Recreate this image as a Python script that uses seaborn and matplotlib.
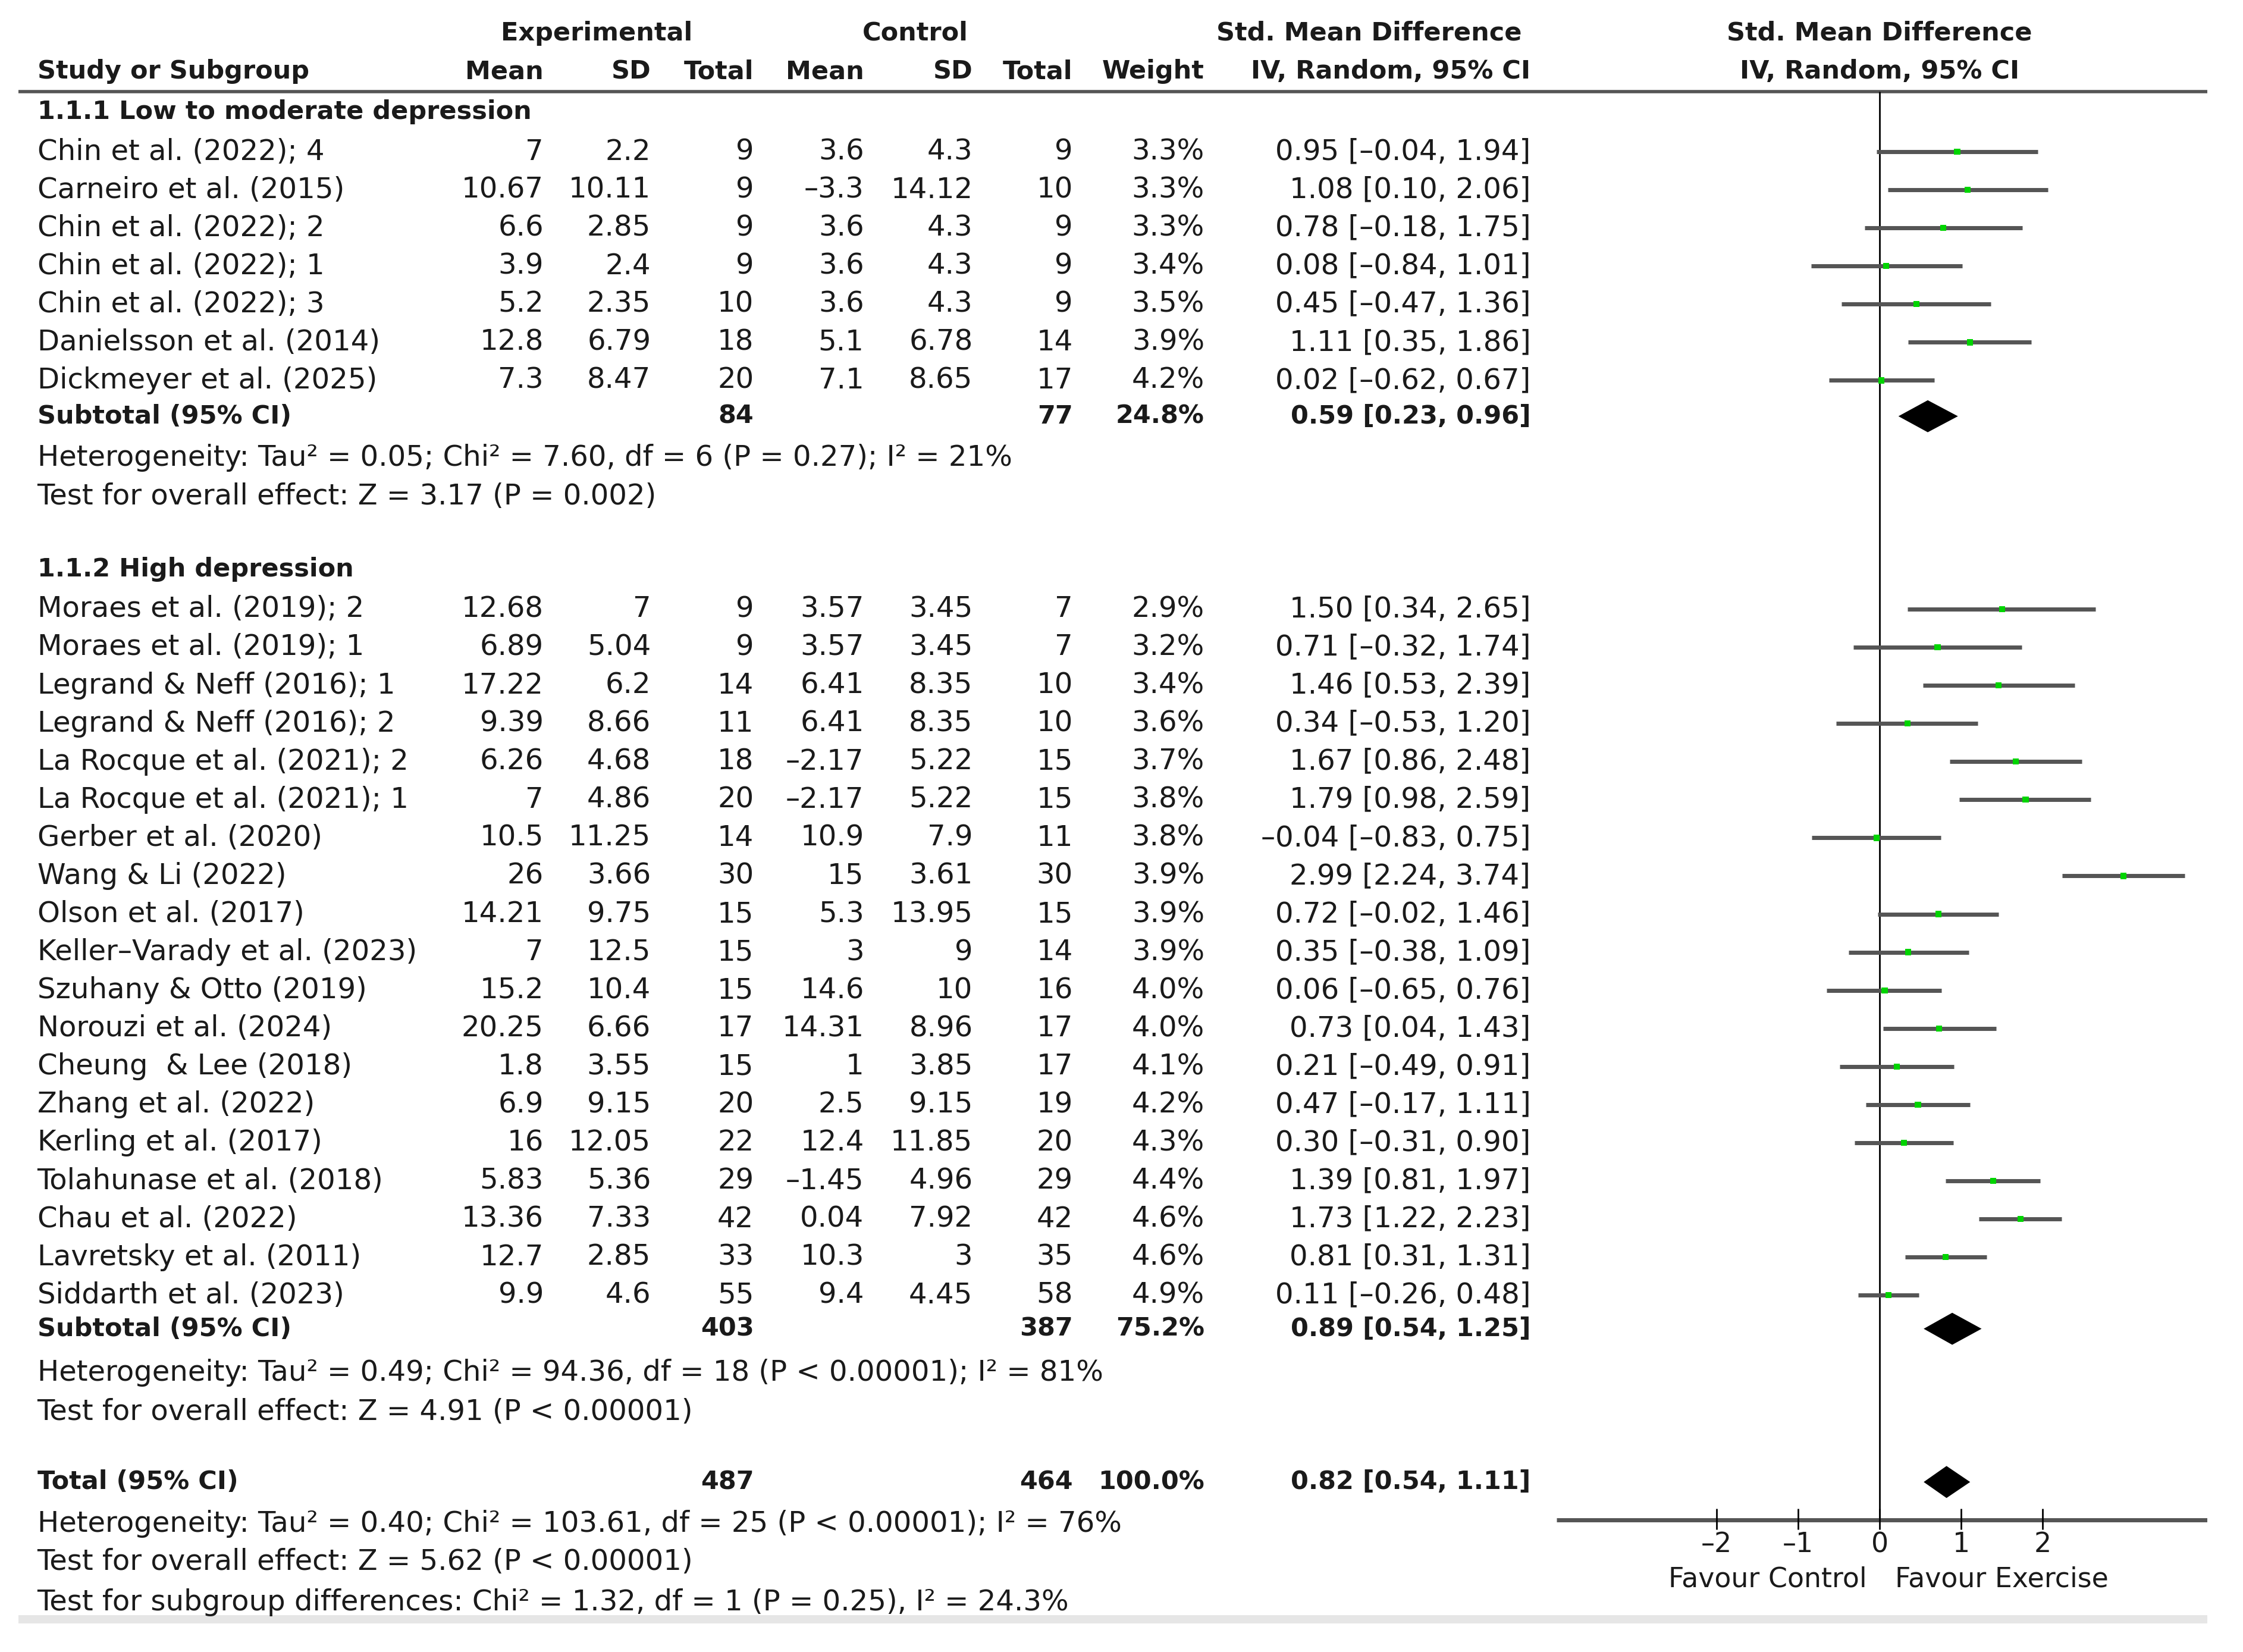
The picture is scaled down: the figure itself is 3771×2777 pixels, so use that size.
import numpy as np
import pandas as pd
import matplotlib.pyplot as plt
import seaborn as sns

# ---- values ----
g1_study = ["Chin et al. (2022); 4", "Carneiro et al. (2015)", "Chin et al. (2022); 2",
            "Chin et al. (2022); 1", "Chin et al. (2022); 3", "Danielsson et al. (2014)",
            "Dickmeyer et al. (2025)"]
g1_exp_mean = [7, 10.67, 6.6, 3.9, 5.2, 12.8, 7.3]
g1_exp_sd = [2.2, 10.11, 2.85, 2.4, 2.35, 6.79, 8.47]
g1_exp_n = [9, 9, 9, 9, 10, 18, 20]
g1_ctl_mean = [3.6, -3.3, 3.6, 3.6, 3.6, 5.1, 7.1]
g1_ctl_sd = [4.3, 14.12, 4.3, 4.3, 4.3, 6.78, 8.65]
g1_ctl_n = [9, 10, 9, 9, 9, 14, 17]
g1_weight = [3.3, 3.3, 3.3, 3.4, 3.5, 3.9, 4.2]
g1_smd = [0.95, 1.08, 0.78, 0.08, 0.45, 1.11, 0.02]
g1_lo = [-0.04, 0.10, -0.18, -0.84, -0.47, 0.35, -0.62]
g1_hi = [1.94, 2.06, 1.75, 1.01, 1.36, 1.86, 0.67]

g2_study = ["Moraes et al. (2019); 2", "Moraes et al. (2019); 1", "Legrand & Neff (2016); 1",
            "Legrand & Neff (2016); 2", "La Rocque et al. (2021); 2", "La Rocque et al. (2021); 1",
            "Gerber et al. (2020)", "Wang & Li (2022)", "Olson et al. (2017)",
            "Keller\u2013Varady et al. (2023)", "Szuhany & Otto (2019)", "Norouzi et al. (2024)",
            "Cheung  & Lee (2018)", "Zhang et al. (2022)", "Kerling et al. (2017)",
            "Tolahunase et al. (2018)", "Chau et al. (2022)", "Lavretsky et al. (2011)",
            "Siddarth et al. (2023)"]
g2_exp_mean = [12.68, 6.89, 17.22, 9.39, 6.26, 7, 10.5, 26, 14.21, 7, 15.2, 20.25, 1.8, 6.9,
               16, 5.83, 13.36, 12.7, 9.9]
g2_exp_sd = [7, 5.04, 6.2, 8.66, 4.68, 4.86, 11.25, 3.66, 9.75, 12.5, 10.4, 6.66, 3.55, 9.15,
             12.05, 5.36, 7.33, 2.85, 4.6]
g2_exp_n = [9, 9, 14, 11, 18, 20, 14, 30, 15, 15, 15, 17, 15, 20, 22, 29, 42, 33, 55]
g2_ctl_mean = [3.57, 3.57, 6.41, 6.41, -2.17, -2.17, 10.9, 15, 5.3, 3, 14.6, 14.31, 1, 2.5,
               12.4, -1.45, 0.04, 10.3, 9.4]
g2_ctl_sd = [3.45, 3.45, 8.35, 8.35, 5.22, 5.22, 7.9, 3.61, 13.95, 9, 10, 8.96, 3.85, 9.15,
             11.85, 4.96, 7.92, 3, 4.45]
g2_ctl_n = [7, 7, 10, 10, 15, 15, 11, 30, 15, 14, 16, 17, 17, 19, 20, 29, 42, 35, 58]
g2_weight = [2.9, 3.2, 3.4, 3.6, 3.7, 3.8, 3.8, 3.9, 3.9, 3.9, 4.0, 4.0, 4.1, 4.2, 4.3, 4.4,
             4.6, 4.6, 4.9]
g2_smd = [1.50, 0.71, 1.46, 0.34, 1.67, 1.79, -0.04, 2.99, 0.72, 0.35, 0.06, 0.73, 0.21, 0.47,
          0.30, 1.39, 1.73, 0.81, 0.11]
g2_lo = [0.34, -0.32, 0.53, -0.53, 0.86, 0.98, -0.83, 2.24, -0.02, -0.38, -0.65, 0.04, -0.49,
         -0.17, -0.31, 0.81, 1.22, 0.31, -0.26]
g2_hi = [2.65, 1.74, 2.39, 1.20, 2.48, 2.59, 0.75, 3.74, 1.46, 1.09, 0.76, 1.43, 0.91, 1.11,
         0.90, 1.97, 2.23, 1.31, 0.48]

sum_label = ["Subtotal (95% CI)", "Subtotal (95% CI)", "Total (95% CI)"]
sum_exp_n = [84, 403, 487]
sum_ctl_n = [77, 387, 464]
sum_weight = [24.8, 75.2, 100.0]
sum_smd = [0.59, 0.89, 0.82]
sum_lo = [0.23, 0.54, 0.54]
sum_hi = [0.96, 1.25, 1.11]

group_titles = ["1.1.1 Low to moderate depression", "1.1.2 High depression"]
g1_notes = ["Heterogeneity: Tau\u00b2 = 0.05; Chi\u00b2 = 7.60, df = 6 (P = 0.27); I\u00b2 = 21%",
            "Test for overall effect: Z = 3.17 (P = 0.002)"]
g2_notes = ["Heterogeneity: Tau\u00b2 = 0.49; Chi\u00b2 = 94.36, df = 18 (P < 0.00001); I\u00b2 = 81%",
            "Test for overall effect: Z = 4.91 (P < 0.00001)"]
total_notes = ["Heterogeneity: Tau\u00b2 = 0.40; Chi\u00b2 = 103.61, df = 25 (P < 0.00001); I\u00b2 = 76%",
               "Test for overall effect: Z = 5.62 (P < 0.00001)",
               "Test for subgroup differences: Chi\u00b2 = 1.32, df = 1 (P = 0.25), I\u00b2 = 24.3%"]
x_ticks = [-2, -1, 0, 1, 2]
favour_labels = ["Favour Control", "Favour Exercise"]

# ---- layout (rows of the table, top to bottom) ----
g1_rows = np.arange(0, 7)
g2_rows = np.arange(12, 31)
sum_rows = [6.94, 30.88, 34.9]
Y_TOP, Y_BOT = -3.98, 39.36

df = pd.DataFrame({
    "study": g1_study + g2_study,
    "exp_mean": g1_exp_mean + g2_exp_mean, "exp_sd": g1_exp_sd + g2_exp_sd,
    "exp_n": g1_exp_n + g2_exp_n,
    "ctl_mean": g1_ctl_mean + g2_ctl_mean, "ctl_sd": g1_ctl_sd + g2_ctl_sd,
    "ctl_n": g1_ctl_n + g2_ctl_n,
    "weight": g1_weight + g2_weight,
    "smd": g1_smd + g2_smd, "lo": g1_lo + g2_lo, "hi": g1_hi + g2_hi,
    "row": np.concatenate([g1_rows, g2_rows]),
})


def num(v):
    return f"{v:g}".replace("-", "\u2013")


def ci_text(m, lo, hi):
    return f"{m:.2f} [{lo:.2f}, {hi:.2f}]".replace("-", "\u2013")


sns.set_theme(style="white")
plt.rcParams["font.family"] = ["DejaVu Sans"]
FS = 34.7      # regular text
FS_B = 31      # bold text
INK = "#1a1a1a"

fig = plt.figure(figsize=(37.71, 27.77), dpi=100)
fig.patch.set_facecolor("white")

# table axes: x in layout units (0..1568), y in rows
tab = fig.add_axes([0, 0, 1, 1])
tab.set_xlim(0, 1568)
tab.set_ylim(Y_BOT, Y_TOP)
tab.axis("off")

cols = {"exp_mean": 380, "exp_sd": 455, "exp_n": 527, "ctl_mean": 604, "ctl_sd": 680,
        "ctl_n": 750, "weight": 842, "ci": 1070}


def t(x, y, s, ha="left", bold=False, ax=tab, size=None):
    if size is None:
        size = FS_B if bold else FS
    ax.text(x, y, s, ha=ha, va="center", fontsize=size, color=INK,
            fontweight="bold" if bold else "normal")


# header
t(417, -3.11, "Experimental", ha="center", bold=True)
t(640, -3.11, "Control", ha="center", bold=True)
t(1064, -3.11, "Std. Mean Difference", ha="right", bold=True)
t(26, -2.1, "Study or Subgroup", bold=True)
for key, lab in [("exp_mean", "Mean"), ("exp_sd", "SD"), ("exp_n", "Total"),
                 ("ctl_mean", "Mean"), ("ctl_sd", "SD"), ("ctl_n", "Total"),
                 ("weight", "Weight"), ("ci", "IV, Random, 95% CI")]:
    t(cols[key], -2.1, lab, ha="right", bold=True)
tab.plot([13, 1543], [-1.58, -1.58], color="#555555", lw=4, solid_capstyle="butt")

# group titles
t(26, -1.05, group_titles[0], bold=True)
t(26, 10.95, group_titles[1], bold=True)

# study rows
for _, r in df.iterrows():
    y = r["row"]
    t(26, y, r["study"])
    for key in ["exp_mean", "exp_sd", "ctl_mean", "ctl_sd"]:
        t(cols[key], y, num(r[key]), ha="right")
    t(cols["exp_n"], y, str(int(r["exp_n"])), ha="right")
    t(cols["ctl_n"], y, str(int(r["ctl_n"])), ha="right")
    t(cols["weight"], y, f"{r['weight']:.1f}%", ha="right")
    t(cols["ci"], y, ci_text(r["smd"], r["lo"], r["hi"]), ha="right")

# subtotal / total rows
for i, y in enumerate(sum_rows):
    t(26, y, sum_label[i], bold=True)
    t(cols["exp_n"], y, str(sum_exp_n[i]), ha="right", bold=True)
    t(cols["ctl_n"], y, str(sum_ctl_n[i]), ha="right", bold=True)
    t(cols["weight"], y, f"{sum_weight[i]:.1f}%", ha="right", bold=True)
    t(cols["ci"], y, ci_text(sum_smd[i], sum_lo[i], sum_hi[i]), ha="right", bold=True)

for y, s in zip([8.03, 9.04], g1_notes):
    t(26, y, s)
for y, s in zip([32.04, 33.06], g2_notes):
    t(26, y, s)
for y, s in zip([36.0, 37.0, 38.05], total_notes):
    t(26, y, s)

tab.plot([13, 1543], [38.5, 38.5], color="#e6e6e6", lw=10, solid_capstyle="butt")

# forest axes: x in SMD units (0 sits at 1314, 57 units per 1)
fx0, fx1 = 1088, 1543
fp = fig.add_axes([fx0 / 1568, 0, (fx1 - fx0) / 1568, 1])
fp.set_xlim((fx0 - 1314) / 57, (fx1 - 1314) / 57)
fp.set_ylim(Y_BOT, Y_TOP)
fp.axis("off")
fp.patch.set_alpha(0)

AXIS_Y = 35.9
fp.vlines(0, -1.58, AXIS_Y, color="black", lw=2)
fp.hlines(df["row"], df["lo"], df["hi"], color="#555555", lw=5)
sns.scatterplot(data=df, x="smd", y="row", marker="s", s=55, color="#00d400",
                edgecolor="none", ax=fp, zorder=3, legend=False)

h = 0.42
for m, lo, hi, y in zip(sum_smd, sum_lo, sum_hi, sum_rows):
    fp.fill([lo, m, hi, m], [y, y - h, y, y + h], color="black", lw=0, zorder=3)

# bottom axis
fp.hlines(AXIS_Y, *fp.get_xlim(), color="#555555", lw=5)
fp.vlines(x_ticks, AXIS_Y - 0.3, AXIS_Y + 0.24, color="black", lw=2)
for v in x_ticks:
    t(v, 36.55, num(v), ha="center", ax=fp, size=33)
t(-0.16, 37.45, favour_labels[0], ha="right", ax=fp, size=33)
t(0.19, 37.45, favour_labels[1], ha="left", ax=fp, size=33)

t(0, -3.11, "Std. Mean Difference", ha="center", bold=True, ax=fp)
t(0, -2.1, "IV, Random, 95% CI", ha="center", bold=True, ax=fp)

fig.savefig("out.png", dpi=100, facecolor="white")
